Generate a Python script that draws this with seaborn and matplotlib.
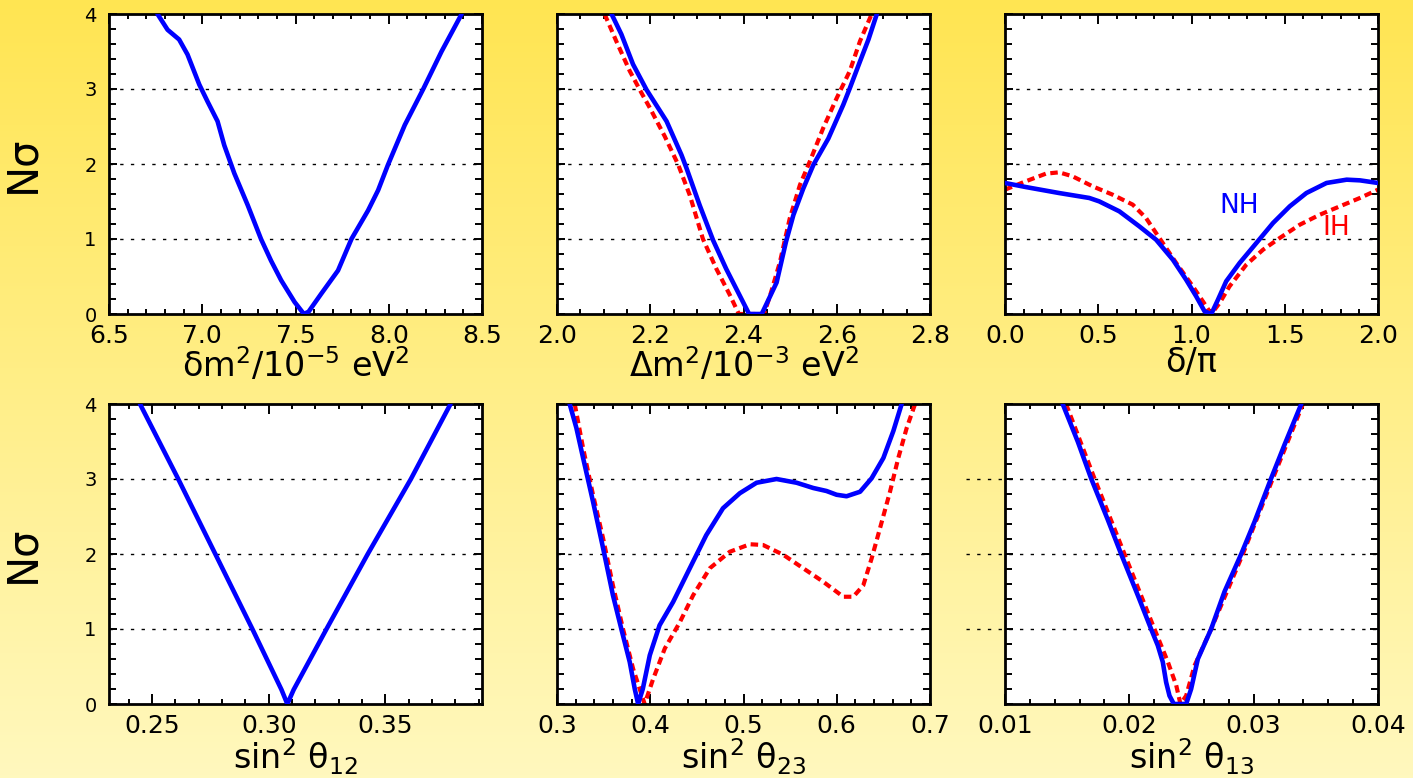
import matplotlib.pyplot as plt
import matplotlib.ticker as mticker
import numpy as np
import pandas as pd
import seaborn as sns

# --- data (N sigma vs oscillation parameter) ---
# delta m^2 / 1e-5 eV^2 (NH)
dm2_x = [6.76, 6.814, 6.876, 6.921, 6.984, 7.029, 7.082, 7.118, 7.172, 7.244, 7.315, 7.369,
         7.423, 7.495, 7.545, 7.57, 7.638, 7.728, 7.80, 7.889, 7.943, 7.996, 8.086, 8.185,
         8.283, 8.391]
dm2_nh = [4.0, 3.79, 3.66, 3.46, 3.06, 2.83, 2.57, 2.25, 1.875, 1.45, 1.0, 0.71,
          0.45, 0.16, 0.0, 0.03, 0.27, 0.58, 1.0, 1.38, 1.65, 1.99, 2.52, 3.0,
          3.50, 4.0]

# Delta m^2 / 1e-3 eV^2
Dm2_nh_x = [2.117, 2.138, 2.163, 2.192, 2.235, 2.267, 2.278, 2.306, 2.335, 2.363, 2.392, 2.412,
            2.439, 2.449, 2.471, 2.491, 2.507, 2.528, 2.550, 2.582, 2.614, 2.628, 2.650, 2.668,
            2.686]
Dm2_nh = [4.0, 3.73, 3.33, 2.99, 2.57, 2.12, 1.94, 1.45, 0.98, 0.60, 0.245, 0.0,
          0.0, 0.13, 0.42, 0.96, 1.32, 1.67, 1.99, 2.34, 2.79, 3.01, 3.37, 3.66,
          4.0]
Dm2_ih_x = [2.102, 2.127, 2.156, 2.181, 2.199, 2.231, 2.260, 2.285, 2.313, 2.342, 2.371, 2.390,
            2.444, 2.457, 2.478, 2.499, 2.521, 2.542, 2.571, 2.600, 2.628, 2.650, 2.675]
Dm2_ih = [4.0, 3.64, 3.24, 2.95, 2.75, 2.37, 1.99, 1.58, 1.0, 0.60, 0.25, 0.0,
          0.0, 0.245, 0.69, 1.27, 1.72, 2.03, 2.48, 2.88, 3.24, 3.64, 4.0]

# delta / pi
cp_nh_x = [0.0, 0.111, 0.290, 0.452, 0.505, 0.613, 0.720, 0.810, 0.900, 0.971, 1.025, 1.070,
           1.106, 1.142, 1.186, 1.258, 1.348, 1.437, 1.527, 1.616, 1.724, 1.832, 1.903, 2.0]
cp_nh = [1.747, 1.693, 1.613, 1.547, 1.502, 1.369, 1.169, 0.991, 0.724, 0.458, 0.236, 0.036,
         0.0, 0.191, 0.436, 0.680, 0.947, 1.213, 1.436, 1.613, 1.747, 1.791, 1.782, 1.747]
cp_ih_x = [0.0, 0.111, 0.219, 0.290, 0.362, 0.470, 0.577, 0.685, 0.756, 0.828, 0.918, 1.007,
           1.079, 1.106, 1.151, 1.204, 1.294, 1.384, 1.473, 1.581, 1.688, 1.796, 1.903, 2.0]
cp_ih = [1.658, 1.769, 1.871, 1.889, 1.836, 1.702, 1.591, 1.458, 1.280, 1.013, 0.680, 0.369,
         0.102, 0.0, 0.147, 0.369, 0.658, 0.858, 1.013, 1.191, 1.324, 1.436, 1.547, 1.658]

# sin^2 theta12 (NH)
th12_x = [0.2448, 0.2612, 0.2771, 0.293, 0.3055, 0.308, 0.3107, 0.3248, 0.3425, 0.361, 0.378]
th12_nh = [4.0, 3.0, 2.0, 1.0, 0.19, 0.0, 0.19, 1.0, 2.0, 3.0, 4.0]

# sin^2 theta23
th23_nh_x = [0.3136, 0.3208, 0.328, 0.3386, 0.3494, 0.360, 0.369, 0.378, 0.3834, 0.387, 0.392,
             0.3995, 0.410, 0.4245, 0.4424, 0.460, 0.478, 0.496, 0.514, 0.5354, 0.557, 0.5748,
             0.589, 0.5998, 0.6105, 0.625, 0.6374, 0.650, 0.6607, 0.6696]
th23_nh = [4.0, 3.68, 3.28, 2.70, 2.08, 1.45, 1.00, 0.56, 0.20, 0.0, 0.20,
           0.65, 1.05, 1.36, 1.81, 2.25, 2.61, 2.81, 2.95, 3.0, 2.95, 2.88,
           2.84, 2.79, 2.77, 2.83, 3.01, 3.28, 3.64, 4.0]
th23_ih_x = [0.319, 0.328, 0.3386, 0.3494, 0.360, 0.3708, 0.3816, 0.394, 0.403, 0.4156, 0.4317,
             0.446, 0.4639, 0.4853, 0.5068, 0.521, 0.5426, 0.564, 0.5855, 0.607, 0.6177, 0.6284,
             0.6374, 0.6463, 0.6571, 0.666, 0.675, 0.684]
th23_ih = [4.0, 3.41, 2.79, 2.21, 1.58, 1.0, 0.47, 0.0, 0.33, 0.74, 1.09,
           1.45, 1.81, 2.03, 2.13, 2.12, 1.99, 1.81, 1.63, 1.43, 1.43, 1.58,
           1.94, 2.34, 2.83, 3.28, 3.68, 4.0]

# sin^2 theta13
th13_nh_x = [0.01464, 0.01585, 0.01692, 0.01826, 0.01934, 0.02068, 0.02175, 0.02229, 0.02269,
             0.02296, 0.02323, 0.02358, 0.02457, 0.02497, 0.02551, 0.02658, 0.02766, 0.029,
             0.03007, 0.03141, 0.03249, 0.03383]
th13_nh = [4.0, 3.50, 3.01, 2.46, 2.0, 1.45, 1.0, 0.78, 0.56,
           0.29, 0.11, 0.0, 0.0, 0.20, 0.60, 1.0, 1.50, 2.0,
           2.43, 3.01, 3.46, 4.0]
th13_ih_x = [0.01491, 0.01719, 0.01961, 0.02202, 0.0231, 0.02377, 0.02411, 0.02457, 0.02524,
             0.02658, 0.02913, 0.03155, 0.03396]
th13_ih = [4.0, 3.01, 2.0, 1.0, 0.56, 0.25, 0.0, 0.11, 0.51,
           1.0, 2.0, 3.01, 4.0]

xlabels = [u"\u03b4m$^2$/10$^{-5}$ eV$^2$", u"\u0394m$^2$/10$^{-3}$ eV$^2$", u"\u03b4/\u03c0",
           u"sin$^2$ \u03b8$_{12}$", u"sin$^2$ \u03b8$_{23}$", u"sin$^2$ \u03b8$_{13}$"]
xlims = [(6.5, 8.5), (2.0, 2.8), (0.0, 2.0), (0.2315, 0.3915), (0.3, 0.7), (0.01, 0.04)]
xmajor = [0.5, 0.2, 0.5, 0.05, 0.1, 0.01]
xminor = [0.1, 0.05, 0.1, 0.01, 0.02, 0.002]
xfmt = ["%.1f", "%.1f", "%.1f", "%.2f", "%.1f", "%.2f"]

curves = [
    [(dm2_x, dm2_nh, "nh")],
    [(Dm2_nh_x, Dm2_nh, "nh"), (Dm2_ih_x, Dm2_ih, "ih")],
    [(cp_ih_x, cp_ih, "ih"), (cp_nh_x, cp_nh, "nh")],
    [(th12_x, th12_nh, "nh")],
    [(th23_ih_x, th23_ih, "ih"), (th23_nh_x, th23_nh, "nh")],
    [(th13_ih_x, th13_ih, "ih"), (th13_nh_x, th13_nh, "nh")],
]

sns.set_style("ticks")
plt.rcParams["font.family"] = ["DejaVu Sans"]
plt.rcParams["mathtext.fontset"] = "dejavusans"
plt.rcParams.update({"text.color": "black", "axes.labelcolor": "black",
                     "xtick.color": "black", "ytick.color": "black",
                     "xtick.labelcolor": "black", "ytick.labelcolor": "black"})

fig = plt.figure(figsize=(14.13, 7.78), dpi=100)

# yellow gradient background
bg = fig.add_axes([0, 0, 1, 1], zorder=-10)
top_col = np.array([255, 229, 82]) / 255.0
bot_col = np.array([255, 248, 190]) / 255.0
t = np.linspace(0, 1, 256)[:, None]
grad = (top_col[None, :] * (1 - t) + bot_col[None, :] * t)[:, None, :]
bg.imshow(grad, aspect="auto", extent=[0, 1, 0, 1])
bg.axis("off")

W, H = 1413.0, 778.0
lefts = [109, 557, 1005]
tops = [14, 404]
for i in range(6):
    r, c = divmod(i, 3)
    ax = fig.add_axes([lefts[c] / W, 1 - (tops[r] + 300) / H, 373 / W, 300 / H])
    ax.set_facecolor("white")

    x0 = -0.105 if i == 5 else 0.0
    ax.hlines([1, 2, 3], x0, 1, transform=ax.get_yaxis_transform(), colors="black",
              linewidth=1.0, linestyles=[(0, (2.4, 5.3))], clip_on=False, zorder=1)

    for xs, ys, kind in curves[i]:
        df = pd.DataFrame({"x": xs, "y": ys})
        if kind == "nh":
            sns.lineplot(data=df, x="x", y="y", ax=ax, color="#0000ff", linewidth=3.3,
                         sort=False, estimator=None, zorder=3)
        else:
            sns.lineplot(data=df, x="x", y="y", ax=ax, color="#ff0000", linewidth=3.0,
                         linestyle=(0, (1.8, 1.1)), sort=False, estimator=None, zorder=2)

    ax.set_xlim(*xlims[i])
    ax.set_ylim(0, 4)
    ax.xaxis.set_major_locator(mticker.MultipleLocator(xmajor[i]))
    ax.xaxis.set_minor_locator(mticker.MultipleLocator(xminor[i]))
    ax.xaxis.set_major_formatter(mticker.FormatStrFormatter(xfmt[i]))
    ax.yaxis.set_major_locator(mticker.MultipleLocator(1))
    ax.yaxis.set_minor_locator(mticker.MultipleLocator(0.2))

    ax.tick_params(axis="both", which="both", direction="in", top=True, right=True,
                   width=1.4, color="black")
    ax.tick_params(axis="x", which="major", length=7.5, labelsize=18, pad=7)
    ax.tick_params(axis="x", which="minor", length=3.6)
    ax.tick_params(axis="y", which="major", length=6, labelsize=14, pad=9)
    ax.tick_params(axis="y", which="minor", length=5)
    for sp in ax.spines.values():
        sp.set_linewidth(2.0)
        sp.set_color("black")

    ax.set_xlabel(xlabels[i], fontsize=24, labelpad=-1)
    if c == 0:
        ax.set_ylabel(u"N\u03c3", fontsize=30, family=["Liberation Sans Narrow", "DejaVu Sans"])
        ax.yaxis.set_label_coords(-0.175, 0.5)
    else:
        ax.set_ylabel("")
        ax.tick_params(axis="y", labelleft=False)

    if i == 2:
        ax.text(1.258, 1.436, "NH", color="#0000ff", fontsize=19, ha="center", va="center")
        ax.text(1.774, 1.142, "IH", color="#ff0000", fontsize=19, ha="center", va="center")

fig.savefig("out.png", dpi=100)
